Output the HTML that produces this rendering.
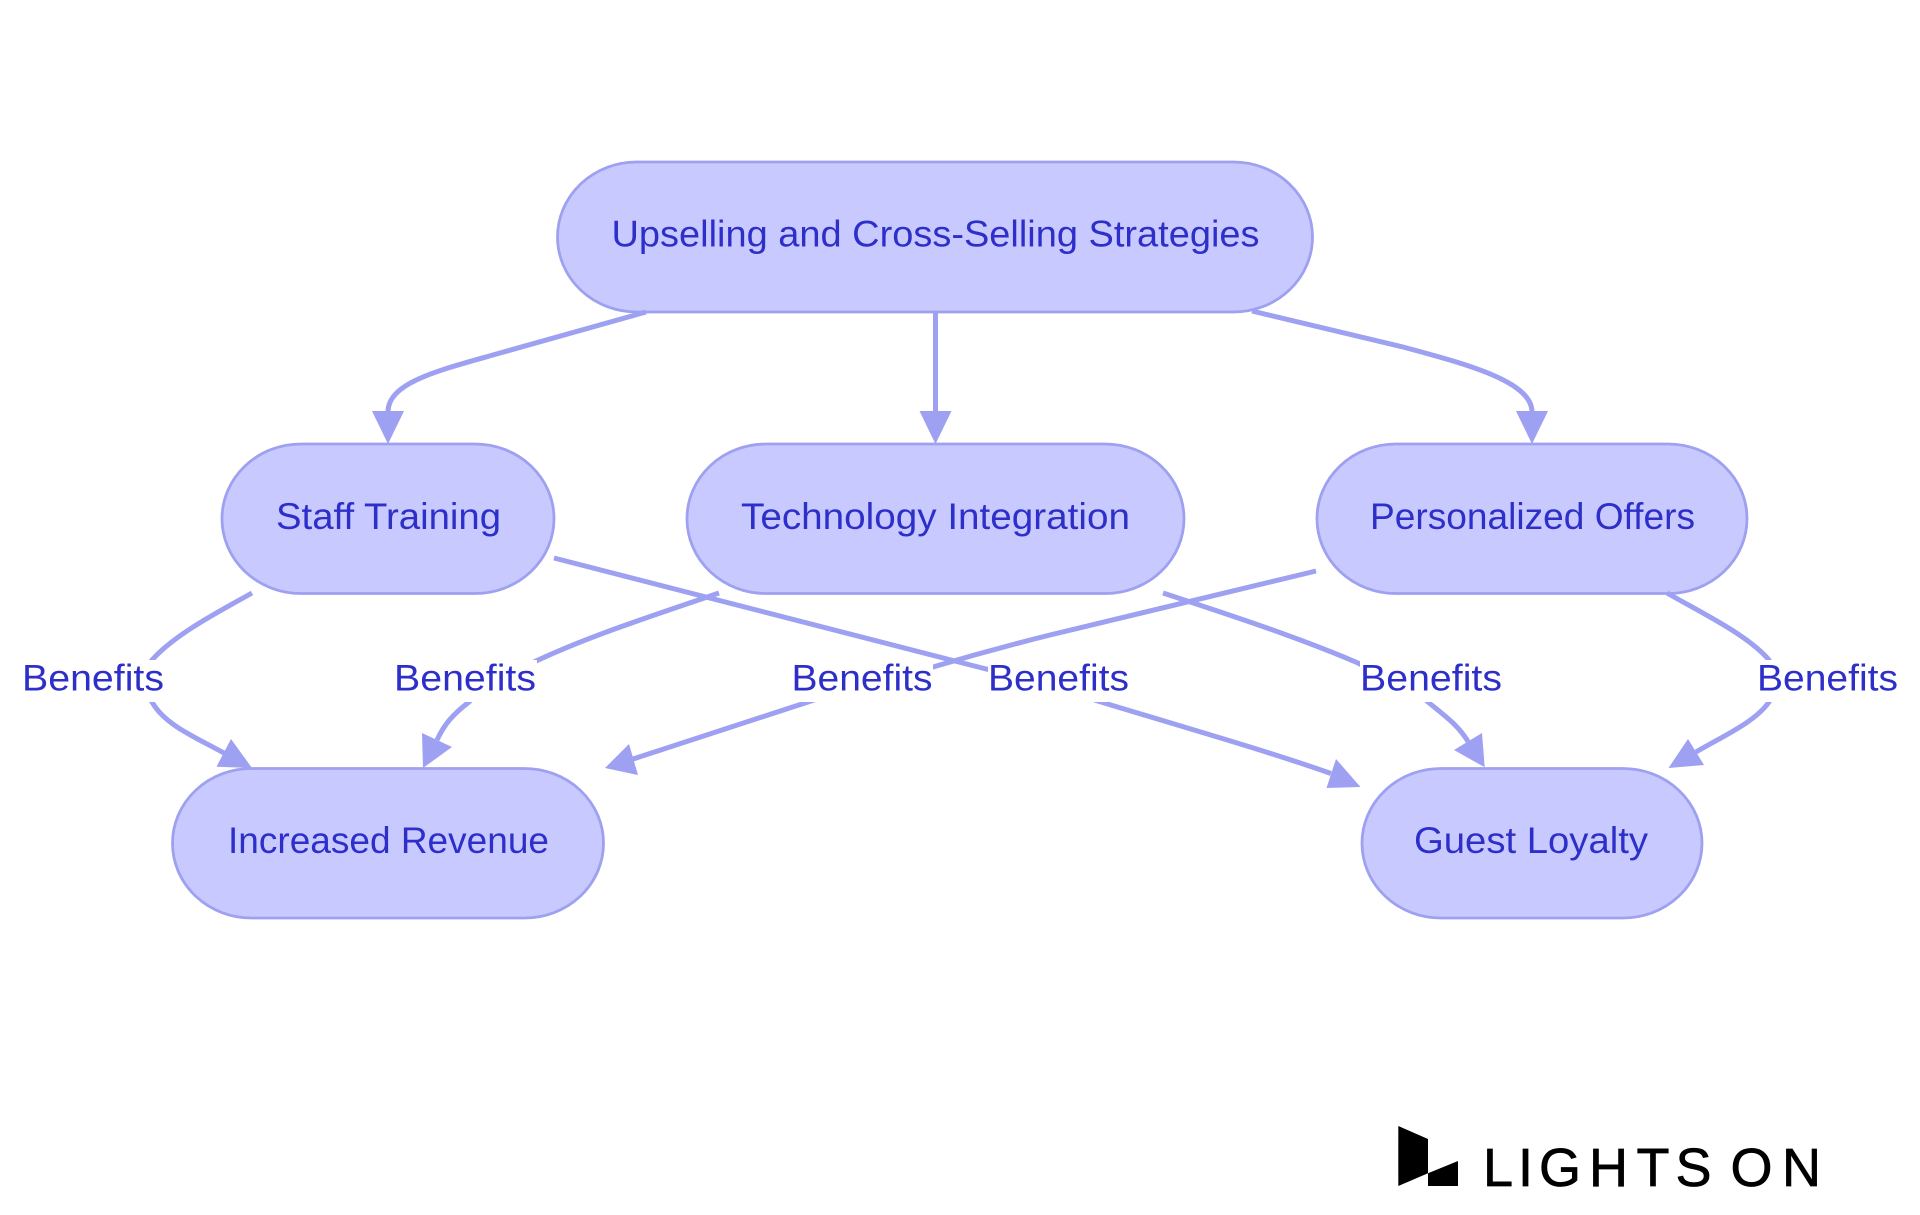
<!DOCTYPE html>
<html>
<head>
<meta charset="utf-8">
<style>
html,body{margin:0;padding:0;background:#fff;width:1920px;height:1215px;overflow:hidden}
svg{display:block}
text{font-family:"Liberation Sans",sans-serif}
.n{fill:#c8caff;stroke:#9ea0f0;stroke-width:2.8}
.e{fill:none;stroke:#9ea0f2;stroke-width:5}
.h{fill:#9ea0f2;stroke:none}
.t{fill:#2e2fc9;font-size:37px}
</style>
</head>
<body>
<svg width="1920" height="1215" viewBox="0 0 1920 1215" xmlns="http://www.w3.org/2000/svg">
<rect width="1920" height="1215" fill="#fff"/>
<!-- nodes -->
<rect class="n" x="557.5" y="162" width="755" height="150" rx="79" ry="75"/>
<rect class="n" x="222" y="444" width="332" height="149.5" rx="79" ry="74.7"/>
<rect class="n" x="687" y="444" width="497" height="149.5" rx="79" ry="74.7"/>
<rect class="n" x="1317" y="444" width="430" height="149.5" rx="79" ry="74.7"/>
<rect class="n" x="172.500" y="768.500" width="431" height="149.500" rx="79" ry="74.7"/>
<rect class="n" x="1362" y="768.500" width="340" height="149.500" rx="79" ry="74.7"/>
<!-- edges -->
<path class="e" d="M646 312 L500 353 C440 370 388 382 388 412"/>
<path class="e" d="M935.500 312 L935.500 412"/>
<path class="e" d="M1252 311 L1403 347 C1470 365 1532 382 1532 412"/>
<path class="e" d="M252 593 C220 611 175 634 152 660 L140 682"/>
<path class="e" d="M140 682 L152 702 C165 725 195 737 224 753"/>
<path class="e" d="M719 593 C640 620 590 636 536 661 L515 672"/>
<path class="e" d="M476 695 L469 702 C452 715 444 725 437 740"/>
<path class="e" d="M1316 571 L1050 635 C1010 645 970 656 933 667 L915 673"/>
<path class="e" d="M820 698 L808 702 L633 759"/>
<path class="e" d="M554 558 L986 669 L1000 672"/>
<path class="e" d="M1085 697 L1101 702 C1200 732 1270 752 1331 773.500"/>
<path class="e" d="M1163 593 C1230 615 1300 638 1358 663 L1375 672"/>
<path class="e" d="M1415 690 L1428 702 C1445 716 1458 725 1468 741.500"/>
<path class="e" d="M1667 593 C1700 612 1748 635 1769 660 L1778 680"/>
<path class="e" d="M1778 685 L1769 702 C1755 722 1725 735 1696 752"/>
<!-- arrowheads -->
<polygon class="h" points="372,411 404,411 388,444"/>
<polygon class="h" points="919.500,411 951.500,411 935.500,444"/>
<polygon class="h" points="1516,411 1548,411 1532,444"/>
<polygon class="h" points="231,739 252,768 216.500,766.700"/>
<polygon class="h" points="422,733 452,747 423,768"/>
<polygon class="h" points="629,744 638,775 605,768"/>
<polygon class="h" points="1336,759 1326.500,788 1360.500,787"/>
<polygon class="h" points="1482,733 1454,750 1484.700,767.300"/>
<polygon class="h" points="1688,739 1704,765 1668.500,768"/>
<!-- label backgrounds -->
<rect x="22" y="660" width="142" height="42" fill="#fff"/>
<rect x="394" y="660" width="143" height="42" fill="#fff"/>
<rect x="791" y="660" width="142" height="42" fill="#fff"/>
<rect x="988" y="660" width="142" height="42" fill="#fff"/>
<rect x="1360" y="660" width="142" height="42" fill="#fff"/>
<rect x="1757" y="660" width="142" height="42" fill="#fff"/>
<!-- node labels -->
<text class="t" x="611.500" y="246.500" textLength="648" lengthAdjust="spacingAndGlyphs">Upselling and Cross-Selling Strategies</text>
<text class="t" x="276" y="529" textLength="225" lengthAdjust="spacingAndGlyphs">Staff Training</text>
<text class="t" x="741" y="529" textLength="389" lengthAdjust="spacingAndGlyphs">Technology Integration</text>
<text class="t" x="1370" y="529" textLength="325" lengthAdjust="spacingAndGlyphs">Personalized Offers</text>
<text class="t" x="228" y="853" textLength="321" lengthAdjust="spacingAndGlyphs">Increased Revenue</text>
<text class="t" x="1414" y="853" textLength="234" lengthAdjust="spacingAndGlyphs">Guest Loyalty</text>
<!-- edge labels -->
<text class="t" x="22" y="690.700" textLength="142" lengthAdjust="spacingAndGlyphs">Benefits</text>
<text class="t" x="394" y="690.700" textLength="142" lengthAdjust="spacingAndGlyphs">Benefits</text>
<text class="t" x="791.500" y="690.700" textLength="141" lengthAdjust="spacingAndGlyphs">Benefits</text>
<text class="t" x="988" y="690.700" textLength="141" lengthAdjust="spacingAndGlyphs">Benefits</text>
<text class="t" x="1360" y="690.700" textLength="142" lengthAdjust="spacingAndGlyphs">Benefits</text>
<text class="t" x="1757" y="690.700" textLength="141" lengthAdjust="spacingAndGlyphs">Benefits</text>
<!-- logo -->
<polygon fill="#000" points="1398.300,1126 1428,1139 1428,1173.300 1398.300,1186"/>
<polygon fill="#000" points="1428,1173.300 1458,1161 1458,1186 1428,1186"/>
<text x="1483 1518 1539 1589 1636.500 1675.500 1710 1730.500 1782" y="1186" font-size="54" fill="#000" stroke="#000" stroke-width="0.7">LIGHTS ON</text>
</svg>
</body>
</html>
